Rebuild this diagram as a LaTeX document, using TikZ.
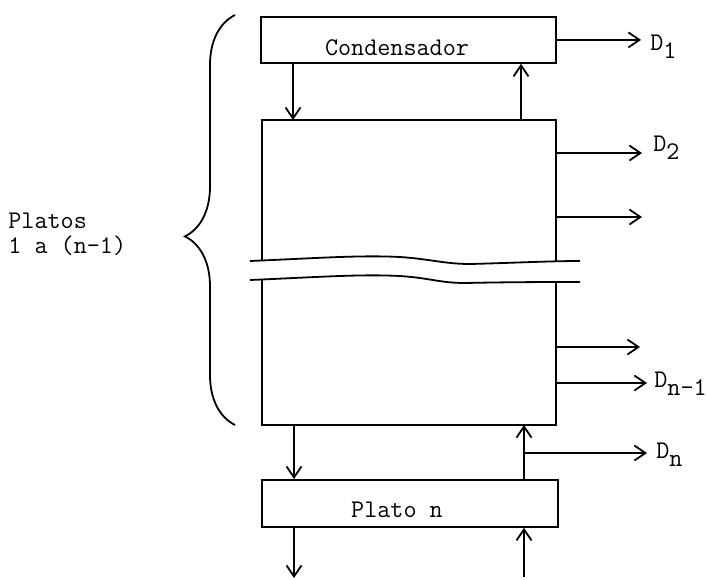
\documentclass[tikz,border=0pt]{standalone}
\usetikzlibrary{arrows.meta,decorations.pathreplacing}
\begin{document}
\begin{tikzpicture}[x=0.5pt,y=-0.5pt,
  line/.style={line width=0.9pt},
  arr/.style={line, -{Straight Barb[length=5.5pt,width=7.5pt,line width=0.9pt]}},
  box/.style={draw, line width=0.9pt, rectangle, inner sep=0pt, anchor=north west},
  txt/.style={font=\ttfamily\fontsize{12.7}{15}\selectfont, inner sep=0pt}]
\useasboundingbox (0,0) rectangle (706,579);
% boxes
\node[box, minimum width=147.5pt, minimum height=23pt] (cond) at (260,16) {};
\node[txt] (condtxt) at (397,48) {Condensador};
\node[box, minimum width=148pt, minimum height=23.5pt] (plato) at (261,479) {};
\node[txt] (platotxt) at (397,510) {Plato n};
% main column
\coordinate (colTL) at (262,120);
\coordinate (colTR) at (556,120);
\coordinate (colBL) at (262,425);
\coordinate (colBR) at (556,425);
\coordinate (brkTL) at (262,260);
\coordinate (brkTR) at (556,261);
\coordinate (brkBL) at (262,280);
\coordinate (brkBR) at (556,282);
\draw[line] (brkTL) -- (colTL) -- (colTR) -- (brkTR);
\draw[line] (brkBL) -- (colBL) -- (colBR) -- (brkBR);
% break lines
\draw[line] (250,261) .. controls (320,258) and (360,255) .. (400,257)
  .. controls (430,259) and (445,264) .. (470,264)
  .. controls (510,263) and (550,261) .. (580,261);
\draw[line] (250,280) .. controls (320,277) and (360,274) .. (400,276)
  .. controls (430,278) and (440,283) .. (465,283)
  .. controls (510,282) and (550,282) .. (580,282);
% reflux and vapour
\draw[arr] (293,0 |- cond.south) -- (293,0 |- colTL);
\draw[arr] (521,0 |- colTL) -- (521,0 |- cond.south);
\draw[arr] (294,0 |- colBL) -- (294,0 |- plato.north);
\draw[arr] (524,0 |- plato.north) -- (524,0 |- colBL);
\draw[arr] (294,0 |- plato.south) -- (294,578);
\coordinate (feed) at (524,577);
\draw[arr] (feed) -- (524,0 |- plato.south);
% side draws
\node[txt, anchor=west] (d1) at (650,47) {D\raisebox{-4pt}{1}};
\node[txt, anchor=west] (d2) at (653,148) {D\raisebox{-4pt}{2}};
\node[txt, anchor=west] (dn1) at (654,384) {D\raisebox{-4pt}{n-1}};
\node[txt, anchor=west] (dn) at (656,455) {D\raisebox{-4pt}{n}};
\draw[arr] (cond.east) -- (641,0 |- cond.east);
\draw[arr] (556,153) -- (642,153);
\draw[arr] (556,217) -- (642,217);
\draw[arr] (556,347) -- (640,347);
\draw[arr] (556,383) -- (647,383);
\draw[arr] (524,453) -- (647,453);
% brace and label
\draw[line, decorate, decoration={brace, amplitude=25pt, aspect=0.46}] (235,425) -- (235,15);
\node[txt, anchor=base west] (pl1) at (8,228) {Platos};
\node[txt, anchor=base west] (pl2) at (8,253) {1 a (n-1)};
\end{tikzpicture}
\end{document}
